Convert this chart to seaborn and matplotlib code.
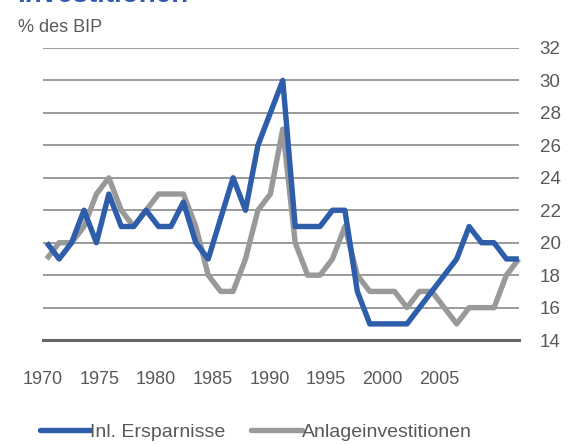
import numpy as np
import pandas as pd
import matplotlib
matplotlib.use("Agg")
import matplotlib.pyplot as plt
import seaborn as sns

years = list(range(1970, 2009))
ersparnisse = [20, 19, 20, 22, 20, 23, 21, 21, 22, 21, 21, 22.5, 20, 19, 21.5, 24, 22, 26, 28, 30,
               21, 21, 21, 22, 22, 17, 15, 15, 15, 15, 16, 17, 18, 19, 21, 20, 20, 19, 19]
anlage = [19, 20, 20, 21, 23, 24, 22, 21, 22, 23, 23, 23, 21, 18, 17, 17, 19, 22, 23, 27,
          20, 18, 18, 19, 21, 18, 17, 17, 17, 16, 17, 17, 16, 15, 16, 16, 16, 18, 19]
series_names = ["Inl. Ersparnisse", "Anlageinvestitionen"]
x_labels = ["1970", "1975", "1980", "1985", "1990", "1995", "2000", "2005"]
y_ticks = [14, 16, 18, 20, 22, 24, 26, 28, 30, 32]

df = pd.DataFrame({"Jahr": years * 2,
                   "Wert": ersparnisse + anlage,
                   "Reihe": [series_names[0]] * len(years) + [series_names[1]] * len(years)})

sns.set_style("white")
plt.rcParams["font.family"] = ["Liberation Sans", "DejaVu Sans"]

fig = plt.figure(figsize=(5.81, 4.44), dpi=100)
ax = fig.add_axes([0.074, 0.234, 0.819, 0.658])

farben = {"Inl. Ersparnisse": "#2E5DAA", "Anlageinvestitionen": "#999999"}
sns.lineplot(data=df, x="Jahr", y="Wert", hue="Reihe", palette=farben, ax=ax,
             linewidth=3.9, legend=False, clip_on=False)
for ln in ax.lines:
    ln.set_solid_joinstyle("round")
    ln.set_solid_capstyle("butt")
# blaue Linie nach vorne
ax.lines[0].set_zorder(3)
ax.lines[1].set_zorder(2)

ax.set_xlim(1969.75, 2008.0)
ax.set_ylim(14, 32)
ax.set_yticks(y_ticks)
ax.yaxis.tick_right()
ax.grid(axis="y", color="#8a8a8a", linewidth=1.2)
ax.grid(axis="x", visible=False)
ax.set_axisbelow(True)
for s in ["top", "left", "right"]:
    ax.spines[s].set_visible(False)
ax.spines["bottom"].set_color("#666666")
ax.spines["bottom"].set_linewidth(2.2)

ax.set_xticks(np.linspace(1969.7, 2001.6, len(x_labels)))
ax.set_xticklabels(x_labels)
ax.tick_params(axis="x", length=0, pad=22, labelsize=13, labelcolor="#595959")
ax.tick_params(axis="y", length=0, pad=15, labelsize=13.5, labelcolor="#595959")
ax.set_xlabel("")
ax.set_ylabel("")

fig.text(0.031, 0.938, "% des BIP", fontsize=13, color="#595959", va="center")
# Titel oben abgeschnitten wie im Original
fig.text(0.029, 1 - 2 / 444, "Investitionen", fontsize=20, fontweight="bold",
         color="#2E5DAA", va="baseline")

handles = [plt.Line2D([], [], color=farben[n], linewidth=3.9) for n in series_names]
fig.legend(handles, series_names, loc="center", bbox_to_anchor=(0.44, 1 - 432 / 444),
           ncol=2, frameon=False, fontsize=14, handlelength=2.6, handletextpad=0.0,
           columnspacing=1.3, labelcolor="#595959")

plt.savefig("out.png", dpi=100)
